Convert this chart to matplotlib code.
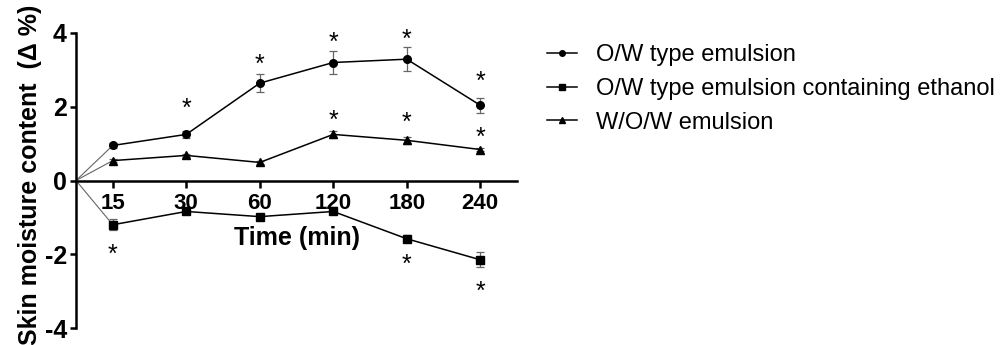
import numpy as np
import matplotlib.pyplot as plt
from matplotlib.lines import Line2D

times = ["15", "30", "60", "120", "180", "240"]

ow_mean = [0.95, 1.25, 2.64, 3.20, 3.29, 2.04]
ow_err = [0.07, 0.10, 0.25, 0.31, 0.32, 0.20]
ow_star = [None, 2.07, 3.26, 3.86, 3.94, 2.80]

eth_mean = [-1.20, -0.84, -0.98, -0.84, -1.58, -2.15]
eth_err = [0.15, 0.05, 0.05, 0.05, 0.10, 0.20]
eth_star = [-1.88, None, None, None, -2.15, -2.88]

wow_mean = [0.54, 0.68, 0.49, 1.25, 1.09, 0.84]
wow_err = [0.04, 0.04, 0.03, 0.10, 0.10, 0.04]
wow_star = [None, None, None, 1.74, 1.71, 1.30]

labels = ["O/W type emulsion", "O/W type emulsion containing ethanol", "W/O/W emulsion"]
markers = ["o", "s", "^"]

plt.rcParams['font.family'] = ['Liberation Sans', 'DejaVu Sans']

fig = plt.figure(figsize=(10.03, 3.45), dpi=100)
ax = fig.add_axes([76 / 1003, 17 / 345, (517 - 76) / 1003, (328 - 33) / 345])

ax.spines['top'].set_visible(False)
ax.spines['right'].set_visible(False)
ax.spines['bottom'].set_position(('data', 0))
ax.spines['left'].set_linewidth(1.8)
ax.spines['bottom'].set_linewidth(1.8)

x = np.arange(len(times))
series = [(ow_mean, ow_err, ow_star), (eth_mean, eth_err, eth_star), (wow_mean, wow_err, wow_star)]
handles = []
for (mean, err, star), lab, mk in zip(series, labels, markers):
    # thin segment from the origin to the first time point
    ax.plot([-0.5, x[0]], [0, mean[0]], color='#666666', lw=0.8, zorder=2)
    ax.errorbar(x, mean, yerr=err, color='black', ecolor='#666666', elinewidth=0.9,
                capsize=3, capthick=0.9, lw=1.1, marker=mk, markersize=5.5, zorder=3)
    for xi, s in zip(x, star):
        if s is not None:
            ax.annotate("*", xy=(xi, s), xytext=(0, -5), textcoords='offset pixels',
                        ha='center', va='center', fontsize=18)
    handles.append(Line2D([], [], color='black', lw=1.1, marker=mk, markersize=4, label=lab))

ax.set_xlim(-0.5, 5.5)
ax.set_ylim(-4, 4)
ax.set_yticks([-4, -2, 0, 2, 4])
ax.set_yticklabels(["-4", "-2", "0", "2", "4"], fontsize=18, fontweight='bold')
ax.set_xticks(x)
ax.set_xticklabels(times, fontsize=16, fontweight='bold')
ax.tick_params(axis='y', width=1.8, length=4.5, pad=2)
ax.tick_params(axis='x', width=1.8, length=5, pad=4)

ax.set_ylabel("Skin moisture content  (Δ %)", fontsize=18, fontweight='bold')
ax.yaxis.set_label_coords(-0.078, 0.52)
ax.text(2.5, -1.57, "Time (min)", ha='center', va='center', fontsize=18, fontweight='bold')

ax.legend(handles=handles, loc='upper left', bbox_to_anchor=(547 / 1003, 1 - 44 / 345),
          bbox_transform=fig.transFigure, frameon=False, fontsize=17, borderpad=0,
          borderaxespad=0, handlelength=1.27, labelspacing=0.5, handletextpad=0.8)

fig.savefig("out.png", dpi=100)
